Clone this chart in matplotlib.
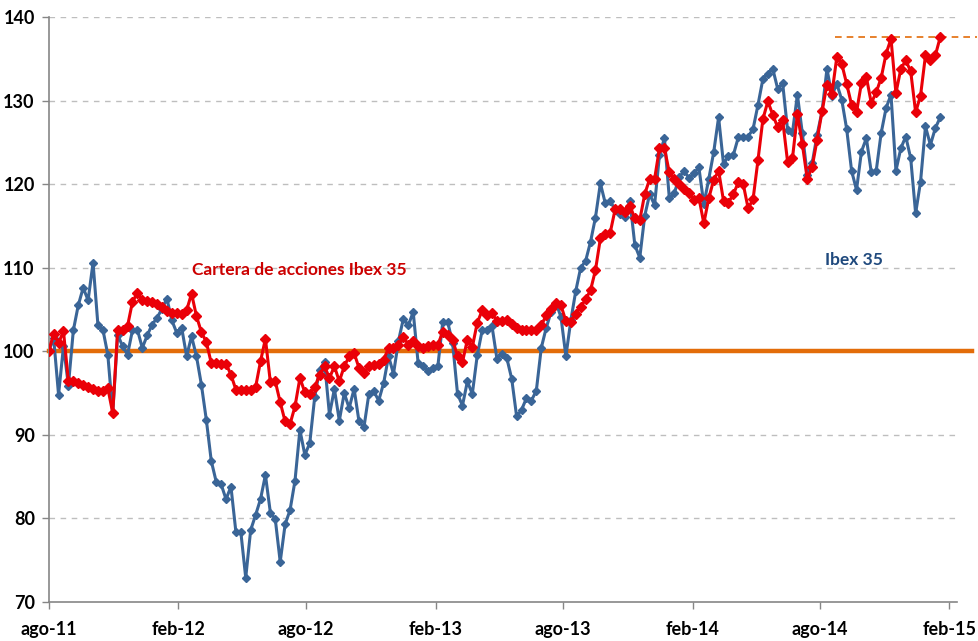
import datetime as dt
import numpy as np
import matplotlib
matplotlib.use("Agg")
import matplotlib.pyplot as plt
import matplotlib.dates as mdates

# weekly data, first week = beginning of Aug 2011
start = dt.date(2011, 8, 1)

ibex = [100.0, 101.6, 94.8, 100.6, 95.9, 102.5, 105.5, 107.6, 106.1, 110.6,
        103.1, 102.6, 99.6, 92.6, 102.0, 100.6, 99.6, 102.5, 102.6, 100.4,
        101.9, 103.2, 104.0, 105.1, 106.3, 103.7, 102.2, 102.8, 99.4, 101.8,
        99.4, 96.0, 91.8, 86.9, 84.4, 84.1, 82.3, 83.8, 78.4, 78.4,
        72.9, 78.6, 80.4, 82.3, 85.2, 80.7, 79.9, 74.8, 79.3, 81.0,
        84.5, 90.6, 87.6, 89.0, 94.5, 97.8, 98.7, 92.4, 95.5, 91.7,
        95.0, 93.2, 95.5, 91.6, 90.9, 94.9, 95.2, 94.1, 96.2, 99.4,
        97.3, 101.2, 103.9, 103.1, 104.7, 98.6, 98.2, 97.6, 98.0, 98.2,
        103.5, 103.5, 101.0, 94.9, 93.5, 96.4, 94.9, 99.5, 102.5, 102.5,
        103.0, 99.1, 99.7, 99.2, 96.7, 92.2, 93.0, 94.4, 94.1, 95.3,
        100.4, 102.8, 104.7, 105.8, 104.1, 99.4, 103.7, 107.2, 110.0, 110.8,
        113.1, 116.0, 120.1, 117.7, 118.0, 116.9, 116.4, 116.1, 118.0, 112.7,
        111.2, 116.2, 118.8, 117.5, 123.5, 125.5, 118.3, 118.9, 120.8, 121.6,
        120.7, 121.3, 122.0, 117.6, 120.6, 123.8, 128.0, 122.4, 123.4, 123.5,
        125.6, 125.7, 125.7, 126.6, 129.5, 132.6, 133.2, 133.8, 131.4, 132.1,
        126.5, 126.2, 130.7, 126.1, 121.1, 122.5, 125.9, 128.7, 133.8, 130.6,
        132.0, 130.1, 126.6, 121.6, 119.3, 123.9, 125.5, 121.4, 121.6, 126.1,
        129.1, 130.7, 121.6, 124.3, 125.7, 123.1, 116.5, 120.3, 126.9, 124.7,
        126.7, 128.0]

cartera = [100.0, 102.1, 101.0, 102.4, 96.4, 96.4, 96.2, 96.0, 95.7, 95.5,
           95.2, 95.2, 95.6, 92.6, 102.6, 102.6, 103.0, 105.9, 107.0, 106.1,
           106.0, 105.9, 105.7, 105.3, 104.8, 104.6, 104.6, 104.5, 104.9, 106.9,
           104.2, 102.3, 101.1, 98.6, 98.6, 98.5, 98.5, 97.2, 95.4, 95.4,
           95.4, 95.4, 95.7, 98.8, 101.5, 96.3, 96.4, 93.9, 91.6, 91.3,
           93.4, 96.8, 95.1, 94.9, 95.7, 97.2, 98.2, 96.8, 98.2, 96.4,
           98.2, 99.4, 99.8, 98.0, 97.4, 98.2, 98.4, 98.5, 99.0, 100.4,
           100.4, 100.8, 101.7, 100.8, 101.2, 100.6, 100.4, 100.6, 100.8, 100.8,
           102.3, 102.0, 101.4, 99.4, 98.7, 101.4, 100.5, 103.4, 104.9, 104.3,
           104.6, 103.6, 103.6, 103.7, 103.3, 102.8, 102.5, 102.5, 102.5, 102.5,
           103.1, 104.3, 105.1, 105.8, 105.5, 103.6, 103.5, 104.5, 105.3, 106.2,
           107.3, 109.7, 113.5, 114.0, 114.2, 117.0, 117.0, 116.7, 117.4, 115.9,
           115.7, 118.8, 120.6, 120.6, 124.3, 124.3, 121.4, 120.6, 120.0, 119.4,
           118.9, 118.1, 118.4, 115.3, 118.3, 120.5, 121.6, 118.0, 117.8, 118.8,
           120.2, 120.0, 117.1, 118.2, 122.9, 127.8, 129.9, 128.3, 126.8, 127.7,
           122.7, 123.1, 128.4, 124.8, 120.6, 122.1, 125.3, 128.7, 131.9, 130.8,
           135.2, 134.4, 132.0, 129.5, 128.6, 132.1, 132.8, 129.7, 131.0, 132.7,
           135.6, 137.4, 130.9, 133.8, 134.8, 133.5, 128.6, 130.6, 135.4, 134.8,
           135.4, 137.6]

tick_dates = [dt.date(2011, 8, 1), dt.date(2012, 2, 1), dt.date(2012, 8, 1),
              dt.date(2013, 2, 1), dt.date(2013, 8, 1), dt.date(2014, 2, 1),
              dt.date(2014, 8, 1), dt.date(2015, 2, 1)]
tick_labels = ["ago-11", "feb-12", "ago-12", "feb-13", "ago-13", "feb-14", "ago-14", "feb-15"]
y_ticks = [70, 80, 90, 100, 110, 120, 130, 140]

dates = [start + dt.timedelta(days=7 * i) for i in range(len(ibex))]

plt.rcParams['font.family'] = ['Lato', 'DejaVu Sans']
plt.rcParams['font.weight'] = 'bold'

fig = plt.figure(figsize=(9.79, 6.41), dpi=100)
ax = fig.add_axes([48.7 / 979, 39 / 641, (957 - 48.7) / 979, 585 / 641])

blue = '#3A6597'
red = '#EA0008'
orange = '#E36C09'

# grid
for v in y_ticks[1:]:
    ax.axhline(v, color='#BEBEBE', lw=1, ls=(0, (4, 4)), zorder=1)

# base 100 line, goes a bit past the plot area
x0 = mdates.date2num(start)
x_end = x0 + 187.5 * 7
ax.plot([x0, x_end], [100, 100], color=orange, lw=3.2, clip_on=False, zorder=2)

ax.plot(dates, ibex, color=blue, lw=2.2, marker='D', ms=4.2, zorder=3)
ax.plot(dates, cartera, color=red, lw=2.2, marker='D', ms=4.6, zorder=4)

# dashed line at last value of the portfolio
ax.plot([x0 + 159.7 * 7, x0 + 188.5 * 7], [cartera[-1], cartera[-1]],
        color=orange, lw=1.2, ls=(0, (4, 3)), clip_on=False, zorder=2)

ax.text(mdates.date2num(dt.date(2012, 2, 20)), 109.7, "Cartera de acciones Ibex 35",
        color='#CC0000', fontsize=12.5, fontweight='bold', va='center')
ax.text(mdates.date2num(dt.date(2014, 8, 8)), 110.9, "Ibex 35",
        color='#1F497D', fontsize=12.5, fontweight='bold', va='center')

ax.set_ylim(70, 140)
ax.set_xlim(x0, x0 + 184.4 * 7)
ax.set_yticks(y_ticks)
ax.set_xticks([mdates.date2num(d) for d in tick_dates])
ax.set_xticklabels(tick_labels)
ax.tick_params(axis='both', labelsize=13, color='#868686', length=5, width=1)
ax.tick_params(axis='x', pad=9)
ax.tick_params(axis='y', pad=5)
for lab in ax.get_xticklabels() + ax.get_yticklabels():
    lab.set_fontweight('bold')

for s in ['top', 'right']:
    ax.spines[s].set_visible(False)
for s in ['left', 'bottom']:
    ax.spines[s].set_color('#868686')
    ax.spines[s].set_linewidth(1.2)

fig.savefig('out.png', dpi=100)
